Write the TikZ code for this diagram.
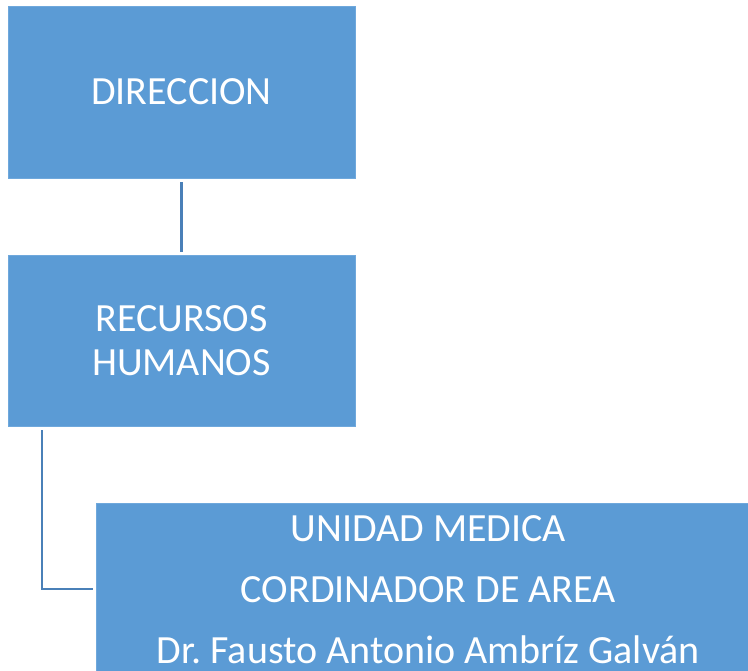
\documentclass[tikz,border=0pt]{standalone}
\usepackage{fontspec}
\setmainfont{Carlito}
\definecolor{boxfill}{HTML}{5B9BD5}
\definecolor{boxedge}{HTML}{6FA8DC}
\definecolor{linecol}{HTML}{4A80B8}
\begin{document}
\frenchspacing
\begin{tikzpicture}[x=1pt,y=-1pt,
  orgbox/.style={draw=boxedge,line width=0.8pt,fill=boxfill,text=white,inner sep=0pt,align=center},
  conn/.style={draw=linecol,line width=2.6pt}]
\clip (0,0) rectangle (748,671);
\fill[white] (0,0) rectangle (748,671);
\node[orgbox,minimum width=347pt,minimum height=172pt,font=\fontsize{40}{44}\selectfont] (dir) at (181.5,92) {DIRECCION};
\node[orgbox,minimum width=347pt,minimum height=171pt,font=\fontsize{40}{43.5}\selectfont] (rh) at (181.5,340.5) {RECURSOS\\HUMANOS};
\node[orgbox,minimum width=664pt,minimum height=172pt,font=\fontsize{40}{61}\selectfont,anchor=north west] (um) at (96,503) {UNIDAD MEDICA\\CORDINADOR DE AREA\\Dr.\ Fausto Antonio Ambríz Galván};
\coordinate (a1) at ([yshift=-4pt]dir.south);
\coordinate (a2) at ([yshift=3pt]rh.north);
\draw[conn] (a1) -- (a2);
\coordinate (b1) at ([xshift=-139.5pt,yshift=-4pt]rh.south);
\coordinate (b2) at ([xshift=-3pt]um.west |- 0,589);
\draw[conn] (b1) |- (b2);
\end{tikzpicture}
\end{document}
